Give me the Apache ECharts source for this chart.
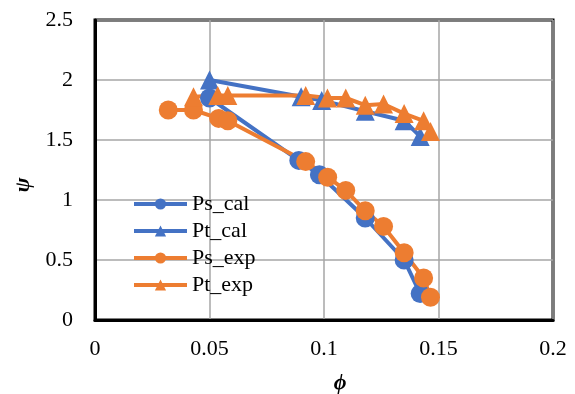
<!DOCTYPE html>
<html>
<head>
    <meta charset="UTF-8">
    <title>psi - phi</title>
    <script src="https://cdn.jsdelivr.net/npm/echarts@6.0.0/dist/echarts.min.js"></script>
    <style>
        body, html { margin: 0; padding: 0; width: 100%; height: 100%; background: #fff; }
        #main { width: 575px; height: 394px; }
    </style>
</head>
<body>
    <div id="main"></div>
    <script>
        // 数据
        const psCalX = [0.050, 0.089, 0.098, 0.118, 0.135, 0.142];
        const psCalY = [1.85, 1.33, 1.21, 0.85, 0.50, 0.22];
        const ptCalX = [0.050, 0.090, 0.099, 0.118, 0.135, 0.142];
        const ptCalY = [2.00, 1.86, 1.83, 1.74, 1.66, 1.53];
        const psExpX = [0.032, 0.043, 0.054, 0.058, 0.092, 0.1016, 0.1095, 0.118, 0.126, 0.135, 0.1435, 0.1465];
        const psExpY = [1.75, 1.75, 1.68, 1.66, 1.32, 1.19, 1.08, 0.91, 0.78, 0.56, 0.35, 0.19];
        const ptExpX = [0.043, 0.0536, 0.058, 0.092, 0.1015, 0.1095, 0.118, 0.126, 0.135, 0.1435, 0.1465];
        const ptExpY = [1.86, 1.87, 1.87, 1.87, 1.85, 1.85, 1.79, 1.80, 1.72, 1.66, 1.57];
        const seriesNames = ['Ps_cal', 'Pt_cal', 'Ps_exp', 'Pt_exp'];

        const pair = (xs, ys) => xs.map((x, i) => [x, ys[i]]);
        const blue = '#4472C4';
        const orange = '#ED7D31';
        const font = '"Liberation Serif", "DejaVu Serif", serif';

        function lineSeries(name, data, color, symbol) {
            return {
                name: name,
                type: 'line',
                data: data,
                symbol: symbol,
                symbolSize: 19,
                itemStyle: { color: color },
                lineStyle: { color: color, width: 4 },
                emphasis: { disabled: true }
            };
        }

        var myChart = echarts.init(document.getElementById('main'));
        const option = {
            animation: false,
            backgroundColor: '#fff',
            grid: {
                left: 95, right: 22, top: 20, bottom: 74,
                outerBoundsMode: 'none',
                show: true,
                borderColor: '#000',
                borderWidth: 3
            },
            legend: {
                data: seriesNames,
                orient: 'vertical',
                left: 132,
                top: 193,
                padding: 0,
                itemGap: 5,
                itemWidth: 53,
                itemHeight: 14,
                lineStyle: { width: 4 },
                textStyle: { fontFamily: font, fontSize: 22, color: '#000' }
            },
            xAxis: {
                type: 'value',
                min: 0, max: 0.2, interval: 0.05,
                name: 'ϕ',
                nameLocation: 'middle',
                nameGap: 52,
                nameTextStyle: { fontFamily: font, fontSize: 22, fontWeight: 'bold', fontStyle: 'italic', color: '#000', padding: [0, 0, 0, 32] },
                axisLine: { show: true, lineStyle: { color: '#000', width: 3 } },
                axisTick: { show: false },
                axisLabel: { fontFamily: font, fontSize: 22, color: '#000', margin: 18 },
                splitLine: { lineStyle: { color: '#a6a6a6', width: 1.5 } }
            },
            yAxis: {
                type: 'value',
                min: 0, max: 2.5, interval: 0.5,
                name: 'ψ',
                nameLocation: 'middle',
                nameGap: 60,
                nameTextStyle: { fontFamily: font, fontSize: 22, fontWeight: 'bold', fontStyle: 'italic', color: '#000', padding: [0, 30, 0, 0] },
                axisLine: { show: true, lineStyle: { color: '#000', width: 3 } },
                axisTick: { show: false },
                axisLabel: { fontFamily: font, fontSize: 22, color: '#000', margin: 22 },
                splitLine: { lineStyle: { color: '#a6a6a6', width: 1.5 } }
            },
            series: [
                lineSeries('Ps_cal', pair(psCalX, psCalY), blue, 'circle'),
                lineSeries('Pt_cal', pair(ptCalX, ptCalY), blue, 'triangle'),
                lineSeries('Ps_exp', pair(psExpX, psExpY), orange, 'circle'),
                lineSeries('Pt_exp', pair(ptExpX, ptExpY), orange, 'triangle')
            ]
        };
        myChart.setOption(option);
    </script>
</body>
</html>
